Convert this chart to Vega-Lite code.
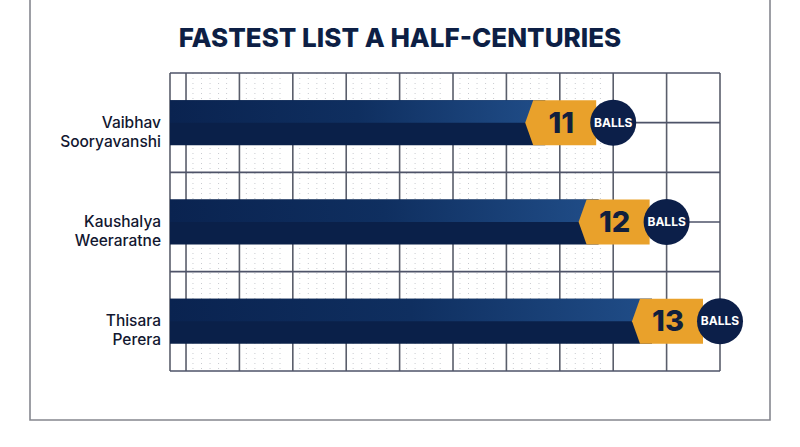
{
  "$schema": "https://vega.github.io/schema/vega-lite/v6.json",
  "width": 740,
  "height": 423,
  "autosize": {"type": "none"},
  "padding": {"left": 30, "top": -3, "right": 30, "bottom": 27},
  "background": "#ffffff",
  "config": {
    "view": {"stroke": "#85878f", "strokeWidth": 1.6},
    "axis": {"domain": false}
  },
  "title": {
    "text": "FASTEST LIST A HALF-CENTURIES",
    "font": "Inter",
    "fontSize": 26,
    "fontWeight": 800,
    "color": "#0d1f45",
    "anchor": "middle",
    "offset": 0,
    "baseline": "alphabetic",
    "dy": 76
  },
  "datasets": {
    "players": [
      {"name": "Vaibhav Sooryavanshi", "balls": 11, "rank": 1},
      {"name": "Kaushalya Weeraratne", "balls": 12, "rank": 2},
      {"name": "Thisara Perera", "balls": 13, "rank": 3}
    ],
    "vgrid": [
      {"g": 2.7}, {"g": 3}, {"g": 4}, {"g": 5}, {"g": 6}, {"g": 7}, {"g": 8},
      {"g": 9}, {"g": 10}, {"g": 11}, {"g": 12}, {"g": 13}
    ],
    "hgrid": [{"h": 0.5}, {"h": 1.5}, {"h": 2.5}, {"h": 3.5}],
    "dots": [
      {"d": 3.13}, {"d": 3.29}, {"d": 3.45}, {"d": 3.61}, {"d": 3.76},
      {"d": 4.13}, {"d": 4.29}, {"d": 4.45}, {"d": 4.61}, {"d": 4.76},
      {"d": 5.13}, {"d": 5.29}, {"d": 5.45}, {"d": 5.61}, {"d": 5.76},
      {"d": 6.13}, {"d": 6.29}, {"d": 6.45}, {"d": 6.61}, {"d": 6.76},
      {"d": 7.13}, {"d": 7.29}, {"d": 7.45}, {"d": 7.61}, {"d": 7.76},
      {"d": 8.13}, {"d": 8.29}, {"d": 8.45}, {"d": 8.61}, {"d": 8.76},
      {"d": 9.13}, {"d": 9.29}, {"d": 9.45}, {"d": 9.61}, {"d": 9.76},
      {"d": 10.13}, {"d": 10.29}, {"d": 10.45}, {"d": 10.61}, {"d": 10.76}
    ]
  },
  "layer": [
    {
      "data": {"name": "dots"},
      "mark": {"type": "rule", "color": "#c9cbd0", "strokeWidth": 1, "strokeDash": [1, 4]},
      "encoding": {
        "x": {"field": "d", "type": "quantitative", "axis": null,
              "scale": {"domain": [2.7, 13], "range": [140, 690], "zero": false, "nice": false, "padding": 0}},
        "y": {"datum": 0.5, "axis": null,
              "scale": {"domain": [0.5, 3.5], "range": [76, 374], "zero": false, "nice": false, "padding": 0}},
        "y2": {"datum": 3.5}
      }
    },
    {
      "data": {"name": "vgrid"},
      "mark": {"type": "rule", "color": "#5a5e6b", "strokeWidth": 1.6},
      "encoding": {
        "x": {"field": "g", "type": "quantitative"},
        "y": {"datum": 0.5},
        "y2": {"datum": 3.5}
      }
    },
    {
      "data": {"name": "hgrid"},
      "mark": {"type": "rule", "color": "#4e5368", "strokeWidth": 1.6},
      "encoding": {
        "y": {"field": "h", "type": "quantitative"},
        "x": {"datum": 2.7},
        "x2": {"datum": 13}
      }
    },
    {
      "data": {"name": "players"},
      "mark": {"type": "rule", "color": "#4e5368", "strokeWidth": 1.6},
      "encoding": {
        "y": {"field": "rank", "type": "quantitative"},
        "x": {"datum": 2.7},
        "x2": {"datum": 13}
      }
    },
    {
      "data": {"name": "players"},
      "mark": {"type": "bar", "orient": "horizontal", "size": 45, "color": "#0a2049", "xOffset": -68},
      "encoding": {
        "x": {"field": "balls", "type": "quantitative"},
        "x2": {"datum": 2.7},
        "y": {"field": "rank", "type": "quantitative"}
      }
    },
    {
      "data": {"name": "players"},
      "mark": {
        "type": "bar", "orient": "horizontal", "size": 22.5, "yOffset": -11.25, "xOffset": -68,
        "color": {
          "gradient": "linear", "x1": 0, "y1": 0, "x2": 1, "y2": 0,
          "stops": [
            {"offset": 0, "color": "#0a2350"},
            {"offset": 0.5, "color": "#0f2f60"},
            {"offset": 1, "color": "#204d88"}
          ]
        }
      },
      "encoding": {
        "x": {"field": "balls", "type": "quantitative"},
        "x2": {"datum": 2.7},
        "y": {"field": "rank", "type": "quantitative"}
      }
    },
    {
      "data": {"name": "players"},
      "mark": {
        "type": "point",
        "shape": "M -0.80 -0.225 L -0.17 -0.225 L -0.17 0.225 L -0.80 0.225 L -0.88 0 Z",
        "size": 40000, "filled": true, "fill": "#e9a12b", "opacity": 1, "strokeWidth": 0
      },
      "encoding": {
        "x": {"field": "balls", "type": "quantitative"},
        "y": {"field": "rank", "type": "quantitative"}
      }
    },
    {
      "data": {"name": "players"},
      "mark": {"type": "circle", "size": 2116, "color": "#0c1f49", "opacity": 1},
      "encoding": {
        "x": {"field": "balls", "type": "quantitative"},
        "y": {"field": "rank", "type": "quantitative"}
      }
    },
    {
      "data": {"name": "players"},
      "mark": {"type": "text", "font": "Inter", "fontSize": 29, "fontWeight": 800, "color": "#111f3d",
               "align": "center", "baseline": "middle", "xOffset": -52, "dy": 1},
      "encoding": {
        "x": {"field": "balls", "type": "quantitative"},
        "y": {"field": "rank", "type": "quantitative"},
        "text": {"field": "balls", "type": "quantitative"}
      }
    },
    {
      "data": {"name": "players"},
      "mark": {"type": "text", "font": "Inter", "fontSize": 12, "fontWeight": 700, "color": "#ffffff",
               "align": "center", "baseline": "middle", "text": "BALLS"},
      "encoding": {
        "x": {"field": "balls", "type": "quantitative"},
        "y": {"field": "rank", "type": "quantitative"}
      }
    },
    {
      "data": {"name": "players"},
      "mark": {"type": "text", "font": "Inter", "fontSize": 15.5, "fontWeight": 500, "color": "#121730",
               "align": "right", "baseline": "middle", "dx": -9, "lineBreak": " ", "lineHeight": 19},
      "encoding": {
        "x": {"datum": 2.7},
        "y": {"field": "rank", "type": "quantitative"},
        "text": {"field": "name", "type": "nominal"}
      }
    }
  ]
}
